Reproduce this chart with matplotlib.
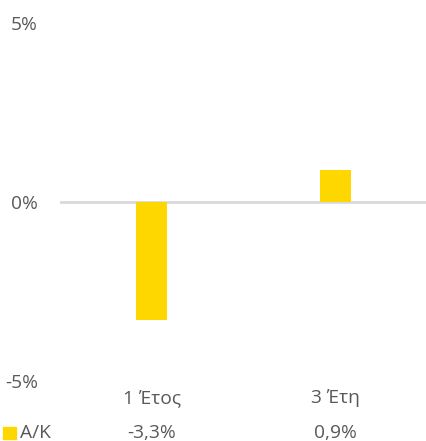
import matplotlib
matplotlib.use("Agg")
import matplotlib.pyplot as plt
from matplotlib.patches import Rectangle
from matplotlib.transforms import blended_transform_factory

categories = ["1 Έτος", "3 Έτη"]
series_name = "Α/Κ"
values = [-3.3, 0.9]
yticks = [-5, 0, 5]
ytick_labels = ["-5%", "0%", "5%"]

bar_color = "#FFD700"
text_color = "#595959"
font = ["Open Sans", "DejaVu Sans"]
fs = 13.8

W, H = 427, 441
fig = plt.figure(figsize=(W / 100, H / 100), dpi=100)
ax = fig.add_axes([60 / W, 1 - 381 / H, (W - 60) / W, (381 - 23) / H])

x = list(range(len(categories)))
ax.bar(x, values, width=0.17, color=bar_color, zorder=2)
ax.axhline(0, color="#D9D9D9", lw=2, zorder=1)
ax.set_xlim(-0.5, len(categories) - 0.5)
ax.set_ylim(-5, 5)
ax.set_yticks(yticks)
ax.set_yticklabels(ytick_labels, fontsize=fs, color=text_color, family=font)
ax.tick_params(axis="y", length=0, pad=16)
ax.set_xticks([])
for s in ax.spines.values():
    s.set_visible(False)

trans = blended_transform_factory(ax.transData, fig.transFigure)
for i, c in enumerate(categories):
    ax.text(i, 1 - 398 / H, c, transform=trans, ha="center", va="center",
            fontsize=fs, color=text_color, family=font)
    v = values[i]
    lab = f"{v:.1f}".replace(".", ",") + "%"
    ax.text(i, 1 - 433 / H, lab, transform=trans, ha="center", va="center",
            fontsize=fs, color=text_color, family=font)

fig.patches.append(Rectangle((3 / W, 1 - 439 / H), 13 / W, 12 / H,
                             transform=fig.transFigure, color=bar_color))
fig.text(20 / W, 1 - 433 / H, series_name, ha="left", va="center",
         fontsize=fs, color=text_color, family=font)

fig.savefig("out.png", dpi=100)
